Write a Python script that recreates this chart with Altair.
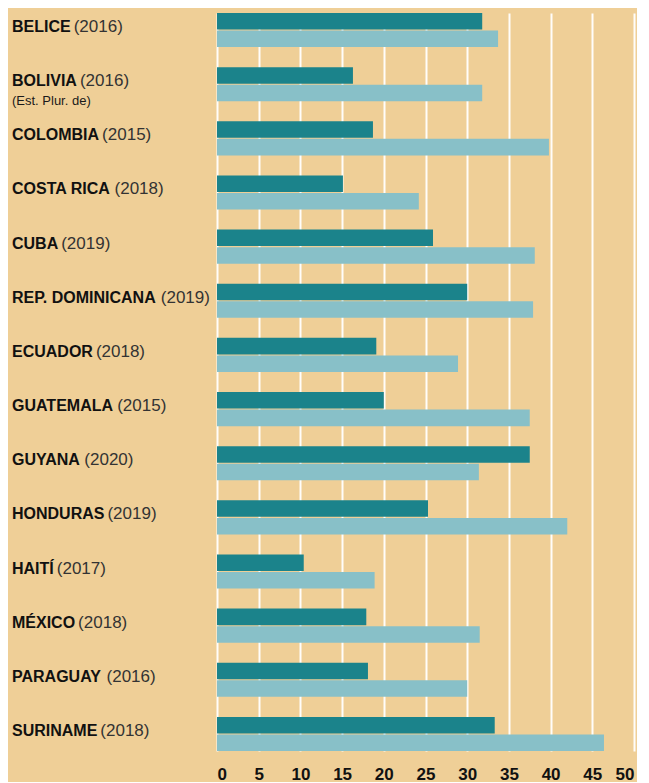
import altair as alt
import pandas as pd

# ---- data ----
paises = ["BELICE", "BOLIVIA", "COLOMBIA", "COSTA RICA", "CUBA", "REP. DOMINICANA",
          "ECUADOR", "GUATEMALA", "GUYANA", "HONDURAS", "HAITÍ", "MÉXICO",
          "PARAGUAY", "SURINAME"]
anios = ["(2016)", "(2016)", "(2015)", "(2018)", "(2019)", "(2019)",
         "(2018)", "(2015)", "(2020)", "(2019)", "(2017)", "(2018)",
         "(2016)", "(2018)"]
notas = ["", "(Est. Plur. de)", "", "", "", "", "", "", "", "", "", "", "", ""]
serie_1 = [31.8, 16.3, 18.7, 15.1, 25.9, 30.0, 19.1, 20.0, 37.5, 25.3, 10.4, 17.9, 18.1, 33.3]
serie_2 = [33.7, 31.8, 39.8, 24.2, 38.1, 37.9, 28.9, 37.5, 31.4, 42.0, 18.9, 31.5, 30.0, 46.4]
ticks = [0, 5, 10, 15, 20, 25, 30, 35, 40, 45, 50]

BG = "#EFCF97"
DARK = "#1B838B"
LIGHT = "#88C0C8"
FONT = "Liberation Sans"

# Arial/Liberation Sans Bold advance widths (per 1000 em)
BOLD_W = {"A": 722, "B": 722, "C": 722, "D": 722, "E": 667, "F": 611, "G": 778,
          "H": 722, "I": 278, "J": 556, "K": 722, "L": 611, "M": 833, "N": 722,
          "O": 778, "P": 667, "Q": 778, "R": 722, "S": 667, "T": 611, "U": 722,
          "V": 667, "W": 944, "X": 667, "Y": 667, "Z": 611, " ": 278, ".": 278,
          "É": 667, "Í": 278}


def bold_width(s, size):
    return sum(BOLD_W.get(c, 667) for c in s) * size / 1000.0


rows = []
for p, a, b in zip(paises, serie_1, serie_2):
    rows.append({"pais": p, "serie": "A", "valor": a})
    rows.append({"pais": p, "serie": "B", "valor": b})
df = pd.DataFrame(rows)

H = 738
LW = 209
yscale = alt.Scale(type="band", domain=paises, paddingInner=0.37, paddingOuter=0)

bars = alt.Chart(df).mark_bar().encode(
    x=alt.X("valor:Q",
            scale=alt.Scale(domain=[0, 50], nice=False),
            axis=alt.Axis(values=ticks, title=None, grid=True, gridColor="white",
                          gridWidth=2, gridOpacity=0.95, domain=False, ticks=False,
                          labelFont=FONT, labelFontSize=17, labelFontWeight="bold",
                          labelColor="#111111", labelPadding=15)),
    y=alt.Y("pais:N", scale=yscale, axis=None),
    yOffset=alt.YOffset("serie:N", scale=alt.Scale(domain=["A", "B"], paddingInner=0.06)),
    color=alt.Color("serie:N", scale=alt.Scale(domain=["A", "B"], range=[DARK, LIGHT]),
                    legend=None),
).properties(width=417, height=H)

NAME_SIZE = 16
lab = pd.DataFrame({"pais": paises, "anio": anios, "nota": notas})
lab["x_anio"] = [4 + bold_width(p, NAME_SIZE) + 3 for p in paises]

xs = alt.Scale(domain=[0, LW], nice=False, zero=True)
base = alt.Chart(lab).encode(y=alt.Y("pais:N", scale=yscale, axis=None))

names = base.mark_text(align="left", baseline="middle", dy=-3, font=FONT,
                       fontSize=NAME_SIZE, fontWeight="bold", color="#111111").encode(
    x=alt.value(4), text="pais:N")
years = base.mark_text(align="left", baseline="middle", dy=-3, font=FONT,
                       fontSize=17, fontWeight="normal", color="#333333").encode(
    x=alt.X("x_anio:Q", scale=xs, axis=None), text="anio:N")
notes = base.mark_text(align="left", baseline="middle", dy=17, font=FONT,
                       fontSize=13, fontWeight="normal", color="#1a1a1a").encode(
    x=alt.value(4), text="nota:N")

labels = alt.layer(names, years, notes).properties(width=LW, height=H)

chart = alt.hconcat(labels, bars, spacing=0).properties(
    padding={"left": 0, "top": 5, "right": 3, "bottom": 0},
    background=BG,
).configure_view(stroke=None)

chart.save("out.html", embed_options={"renderer": "svg", "actions": False})
